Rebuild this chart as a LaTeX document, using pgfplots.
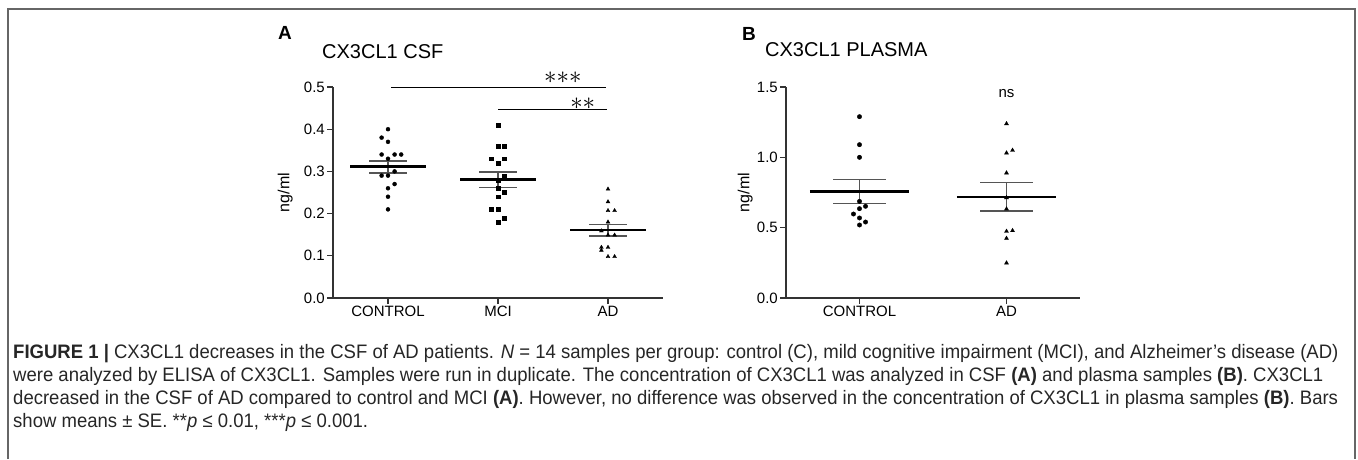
\documentclass[border=0pt]{standalone}
\usepackage{fontspec}
\setmainfont{Liberation Sans}
\newfontfamily\capfont[FakeStretch=0.95]{Liberation Sans}
\usepackage{pgfplots}
\pgfplotsset{compat=1.18}
\definecolor{axgray}{HTML}{333333}
\definecolor{segray}{HTML}{555555}
\definecolor{framegray}{HTML}{666666}
\pgfplotsset{
  cxstyle/.style={
    scale only axis,
    axis x line*=bottom, axis y line*=left,
    axis line style={line width=1.3pt, axgray},
    every tick/.style={line width=1.3pt, axgray},
    tick align=outside, major tick length=6pt,
    ymin=0, clip=false,
    ticklabel style={font=\fontsize{15}{18}\selectfont, inner sep=2pt},
    /pgf/number format/assume math mode=true,
    yticklabel style={/pgf/number format/fixed, /pgf/number format/fixed zerofill, /pgf/number format/precision=1},
    ylabel style={font=\fontsize{16}{19}\selectfont, anchor=center},
  },
  meanl/.style={black, line width=2.6pt, no marks},
  sel/.style={segray, line width=1.3pt, no marks},
}
\begin{document}
\begin{tikzpicture}[x=1pt,y=1pt]
\path[use as bounding box] (0,0) rectangle (1358,459);
\draw[line width=1.5pt, framegray] (8,0) -- (8,450) -- (1355,450) -- (1355,0);

% ---------- Panel A ----------
\begin{axis}[cxstyle, at={(333pt,161pt)}, anchor=south west,
  width=330pt, height=211pt,
  xmin=-0.5, xmax=2.5, ymax=0.5,
  ytick={0,0.1,0.2,0.3,0.4,0.5},
  xtick={0,1,2}, xticklabels={CONTROL,MCI,AD},
  ylabel={ng/ml}, ylabel style={at={(axis description cs:-0.145,0.5)}}]
\addplot[only marks, mark=*, mark size=2pt, black] coordinates {
 (0,0.40) (-0.058,0.38) (0,0.37) (-0.058,0.34) (0.06,0.34) (0.12,0.34)
 (0,0.33) (0.06,0.30) (-0.058,0.29) (0,0.29) (0.06,0.27) (0,0.26) (0,0.24) (0,0.21)};
\addplot[only marks, mark=square*, mark size=1.9pt, black] coordinates {
 (1,0.41) (1,0.36) (1.058,0.36) (0.94,0.33) (1.058,0.33) (1,0.32) (1.058,0.29)
 (1,0.28) (1,0.26) (1.058,0.25) (1,0.24) (0.94,0.21) (1,0.21) (1.058,0.19) (1,0.18)};
\addplot[only marks, mark=triangle*, mark size=2.2pt, black] coordinates {
 (2,0.258) (2,0.228) (2,0.207) (2.06,0.207) (2,0.18) (1.94,0.159) (2,0.149) (2.06,0.149)
 (1.94,0.12) (1.94,0.113) (2,0.12) (2,0.098) (2.06,0.098)};
% SE bars
\addplot[sel] coordinates {(-0.17,0.3246) (0.17,0.3246)};
\addplot[sel] coordinates {(-0.17,0.2962) (0.17,0.2962)};
\addplot[sel] coordinates {(0,0.2962) (0,0.3246)};
\addplot[sel] coordinates {(0.83,0.2986) (1.17,0.2986)};
\addplot[sel] coordinates {(0.83,0.2624) (1.17,0.2624)};
\addplot[sel] coordinates {(1,0.2624) (1,0.2986)};
\addplot[sel] coordinates {(1.83,0.175) (2.17,0.175)};
\addplot[sel] coordinates {(1.83,0.1466) (2.17,0.1466)};
\addplot[sel] coordinates {(2,0.1466) (2,0.175)};
% means
\addplot[meanl] coordinates {(-0.345,0.311) (0.345,0.311)};
\addplot[meanl] coordinates {(0.655,0.2805) (1.345,0.2805)};
\addplot[meanl] coordinates {(1.655,0.1608) (2.345,0.1608)};
% significance
\addplot[black, line width=1pt, no marks] coordinates {(0.03,0.5) (1.98,0.5)};
\addplot[black, line width=1pt, no marks] coordinates {(1.0,0.447) (1.99,0.447)};
\node[font=\fontsize{23}{26}\selectfont, inner sep=0] at (axis cs:1.59,0.522) {${\ast}{\ast}{\ast}$};
\node[font=\fontsize{23}{26}\selectfont, inner sep=0] at (axis cs:1.77,0.461) {${\ast}{\ast}$};
\end{axis}

% ---------- Panel B ----------
\begin{axis}[cxstyle, at={(786pt,161pt)}, anchor=south west,
  width=294pt, height=211pt,
  xmin=-0.5, xmax=1.5, ymax=1.5,
  ytick={0,0.5,1,1.5},
  xtick={0,1}, xticklabels={CONTROL,AD},
  ylabel={ng/ml}, ylabel style={at={(axis description cs:-0.139,0.5)}}]
\addplot[only marks, mark=*, mark size=2.2pt, black] coordinates {
 (0,1.289) (0,1.09) (0,1.0) (0,0.687) (0.041,0.652) (0,0.635) (-0.041,0.597)
 (0,0.569) (0.041,0.540) (0,0.519)};
\addplot[only marks, mark=triangle*, mark size=2.3pt, black] coordinates {
 (1,1.239) (1,1.031) (1.041,1.05) (1,0.889) (1,0.713) (1,0.633) (1,0.474)
 (1.041,0.479) (1,0.424) (1,0.249)};
\addplot[sel] coordinates {(-0.178,0.841) (0.178,0.841)};
\addplot[sel] coordinates {(-0.178,0.673) (0.178,0.673)};
\addplot[sel] coordinates {(0,0.673) (0,0.841)};
\addplot[sel] coordinates {(0.822,0.820) (1.178,0.820)};
\addplot[sel] coordinates {(0.822,0.618) (1.178,0.618)};
\addplot[sel] coordinates {(1,0.618) (1,0.820)};
\addplot[meanl] coordinates {(-0.338,0.758) (0.338,0.758)};
\addplot[meanl] coordinates {(0.662,0.718) (1.338,0.718)};
\node[font=\fontsize{15}{18}\selectfont, inner sep=0] at (axis cs:1,1.45) {ns};
\end{axis}

% ---------- titles ----------
\node[anchor=west, inner sep=0, font=\bfseries\fontsize{19}{22}\selectfont] at (278,426) {A};
\node[anchor=west, inner sep=0, font=\fontsize{20}{24}\selectfont] at (322,407) {CX3CL1 CSF};
\node[anchor=west, inner sep=0, font=\bfseries\fontsize{19}{22}\selectfont] at (742,425) {B};
\node[anchor=west, inner sep=0, font=\fontsize{20}{24}\selectfont] at (765,409) {CX3CL1 PLASMA};

% ---------- caption ----------
\begin{scope}[every node/.style={anchor=base west, inner sep=0, text=black!85, font=\capfont\fontsize{19.5}{23}\selectfont}]
\node at (13,100.5) {\textbf{FIGURE 1 |} CX3CL1 decreases in the CSF of AD patients. \textit{N} = 14 samples per group: control (C), mild cognitive impairment (MCI), and Alzheimer’s disease (AD)};
\node at (13,77.5) {were analyzed by ELISA of CX3CL1. Samples were run in duplicate. The concentration of CX3CL1 was analyzed in CSF \textbf{(A)} and plasma samples \textbf{(B)}. CX3CL1};
\node at (13,54.5) {decreased in the CSF of AD compared to control and MCI \textbf{(A)}. However, no difference was observed in the concentration of CX3CL1 in plasma samples \textbf{(B)}. Bars};
\node at (13,31.5) {show means ± SE. **\textit{p} ≤ 0.01, ***\textit{p} ≤ 0.001.};
\end{scope}
\end{tikzpicture}
\end{document}
